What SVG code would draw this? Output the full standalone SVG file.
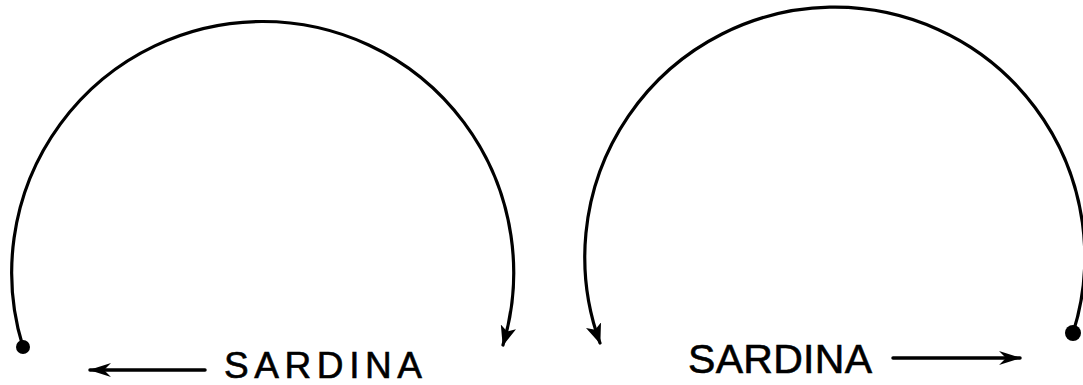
<svg xmlns="http://www.w3.org/2000/svg" width="1083" height="385" viewBox="0 0 1083 385">
  <style>
    .arc { fill: none; stroke: #000; stroke-width: 3.2; stroke-linecap: round; }
    .shaft { fill: none; stroke: #000; stroke-width: 3.5; stroke-linecap: round; }
    .dot { fill: #000; }
    .lbl { font-family: "Liberation Sans", Arial, sans-serif; fill: #000; stroke: #000; stroke-width: 0.6; }
  </style>
  <defs>
    <marker id="arcHead" viewBox="0 0 20 16" refX="19" refY="8" markerWidth="20" markerHeight="16" markerUnits="userSpaceOnUse" orient="auto">
      <path d="M0,0 L20,8 L0,16 L5,8 z" fill="#000"/>
    </marker>
    <marker id="textHead" viewBox="0 0 22 14" refX="21" refY="7" markerWidth="22" markerHeight="14" markerUnits="userSpaceOnUse" orient="auto">
      <path d="M0,0 L22,7 L0,14 L7,7 z" fill="#000"/>
    </marker>
  </defs>
  <rect width="1083" height="385" fill="#fff"/>

  <g id="connectors">
    <path id="arc-left" class="arc" d="M 23 347 A 251 251 0 1 1 503 345" marker-end="url(#arcHead)"/>
    <path id="arc-right" class="arc" d="M 1073 333 A 250 250 0 1 0 600 343" marker-end="url(#arcHead)"/>
    <path id="arrow-left" class="shaft" d="M 205 370 L 90 370" marker-end="url(#textHead)"/>
    <path id="arrow-right" class="shaft" d="M 893 358 L 1020 358" marker-end="url(#textHead)"/>
  </g>

  <g id="dot-left">
    <circle class="dot" cx="23" cy="347" r="7"/>
  </g>
  <g id="dot-right">
    <circle class="dot" cx="1073" cy="333" r="8"/>
  </g>

  <g id="label-left">
    <text class="lbl" x="224" y="378" font-size="37" textLength="198" lengthAdjust="spacing">SARDINA</text>
  </g>
  <g id="label-right">
    <text class="lbl" x="688" y="373" font-size="41" textLength="184" lengthAdjust="spacing">SARDINA</text>
  </g>
</svg>
